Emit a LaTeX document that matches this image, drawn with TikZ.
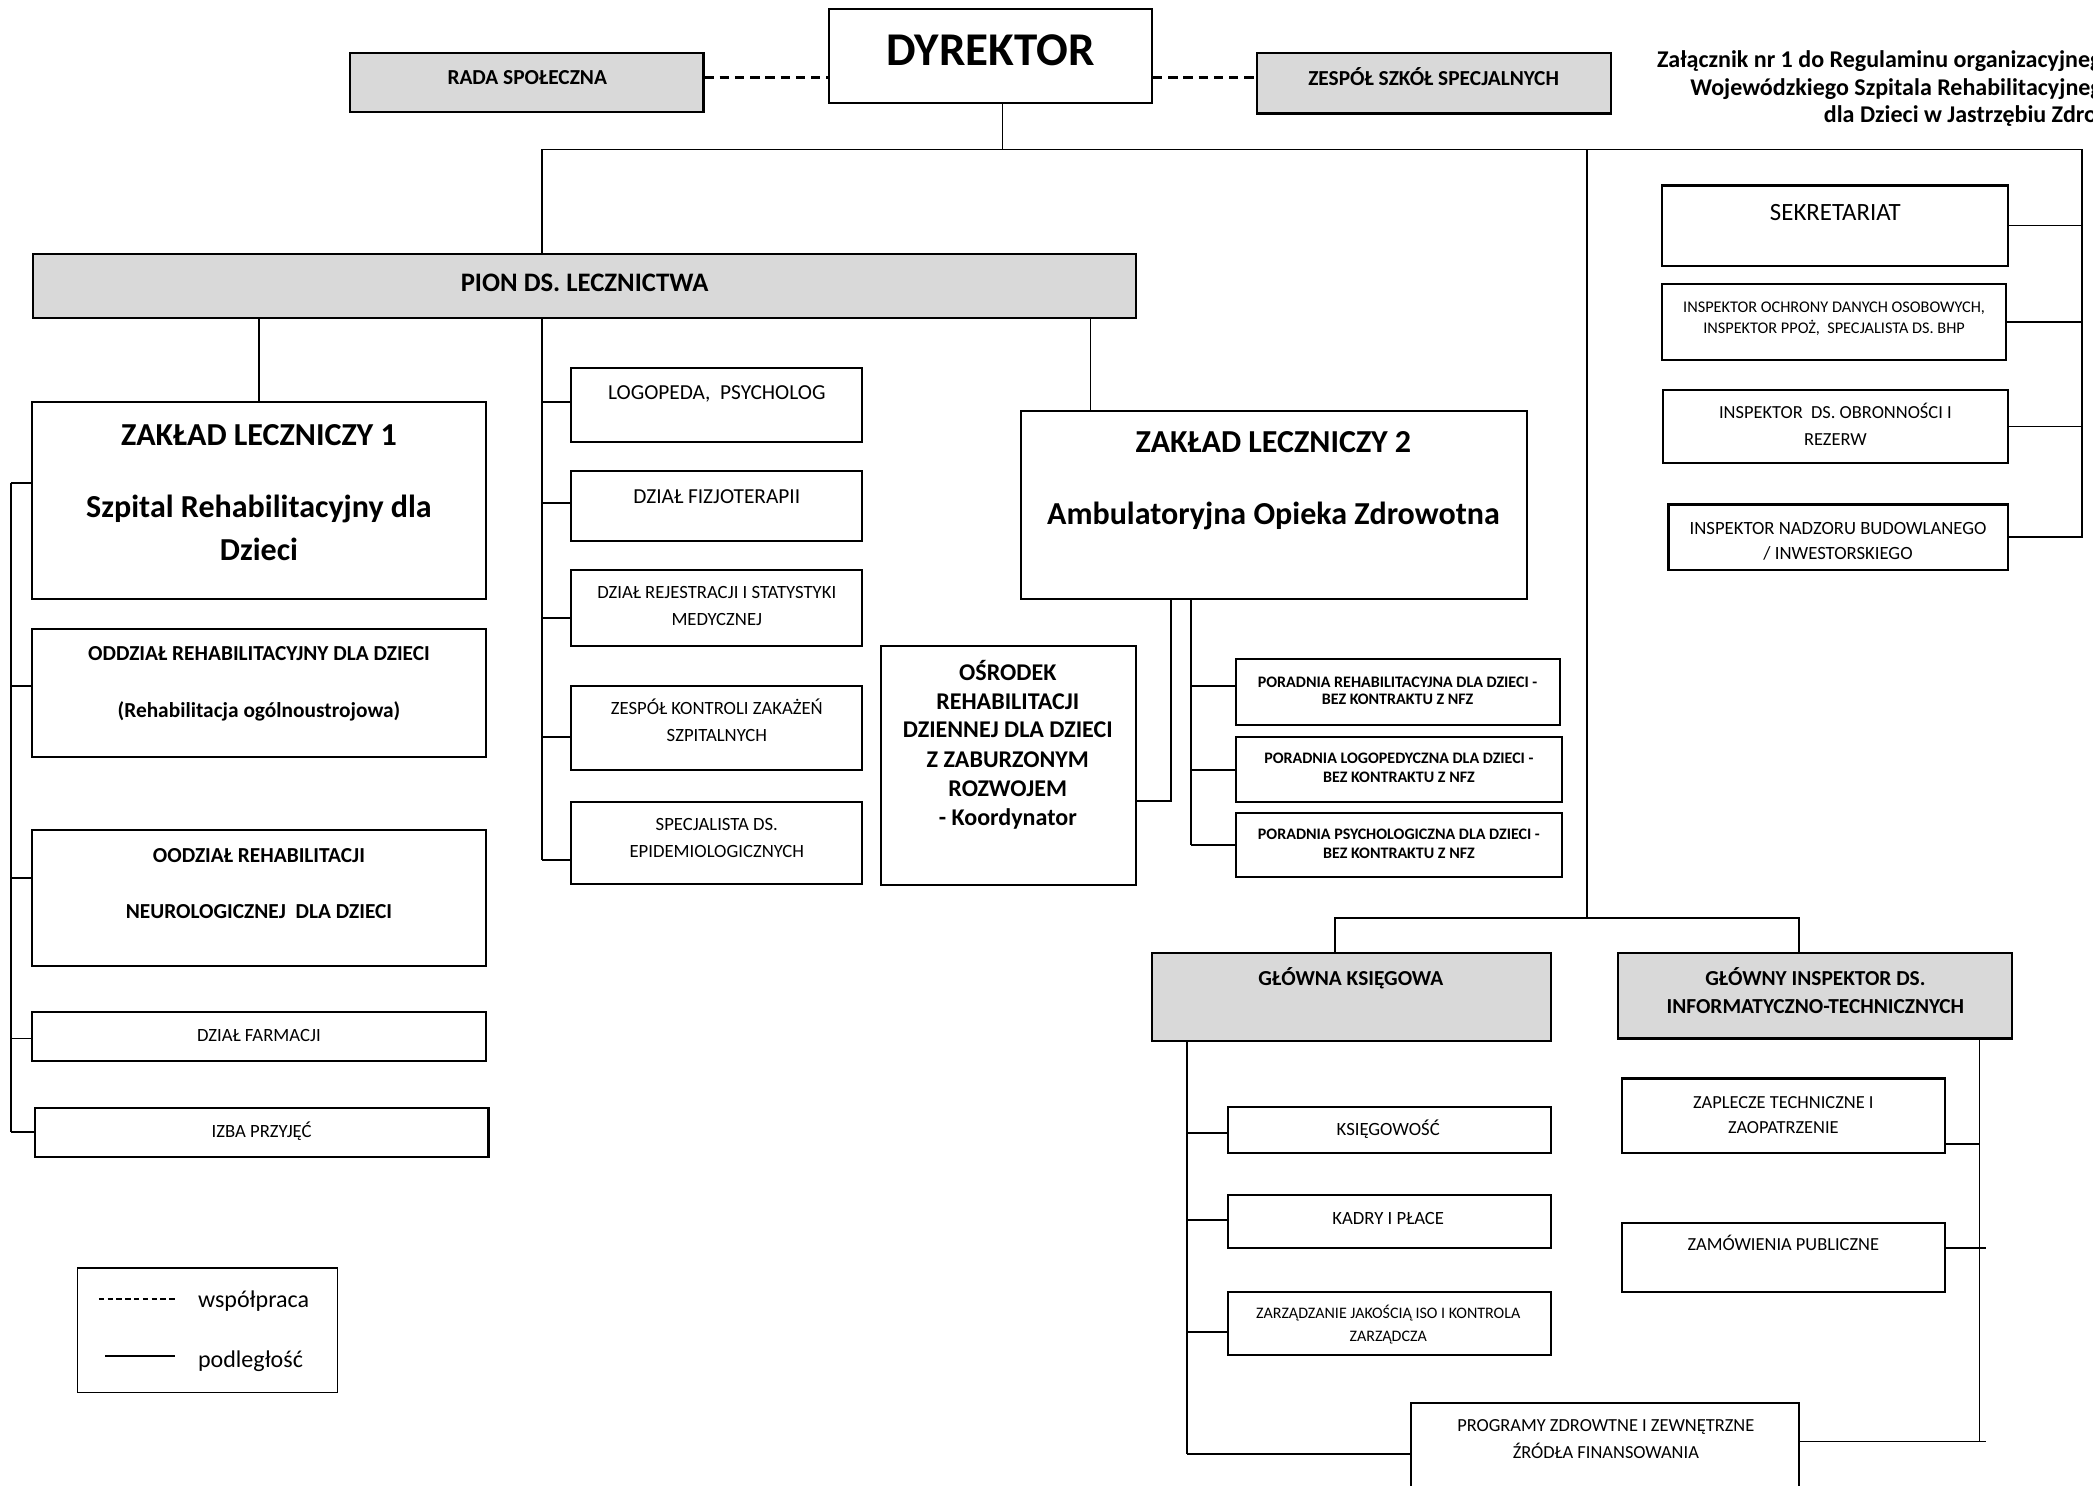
\documentclass[tikz,border=0pt]{standalone}
\usepackage{fontspec}
\setmainfont{Carlito}
\usetikzlibrary{fit}
\definecolor{boxgray}{HTML}{D9D9D9}
\tikzset{
  box/.style={draw, line width=0.8pt, inner sep=0pt},
  gbox/.style={box, fill=boxgray},
  sub/.style={line width=0.65pt},
  coop/.style={line width=0.9pt, dash pattern=on 3.5pt off 2.2pt},
  tx/.code={\pgfmathsetmacro\thgt{0.644*#1}\edef\tmpa{\noexpand\tikzset{inner sep=0pt,text depth=0pt,text height=\thgt pt,font=\noexpand\fontsize{#1}{#1}\noexpand\selectfont}}\tmpa},
  tb/.code={\pgfmathsetmacro\thgt{0.644*#1}\edef\tmpa{\noexpand\tikzset{inner sep=0pt,text depth=0pt,text height=\thgt pt,font=\noexpand\fontsize{#1}{#1}\noexpand\selectfont\noexpand\bfseries}}\tmpa},
}
\begin{document}
\begin{tikzpicture}[x=0.5pt,y=-0.5pt]
\useasboundingbox (0,0) rectangle (1568,1113);
\clip (0,0) rectangle (1568,1113);
\fill[white] (0,0) rectangle (1568,1113);
% ---------- top ----------
\node[box, fit={(621,7) (863,77)}] (dyr) {};
\node[tb=17.6] (dyr-t) at (742,38) {DYREKTOR};
\node[gbox, fit={(262,40) (527,84)}] (rada) {};
\node[tb=8] (rada-t) at (395,58) {RADA SPOŁECZNA};
\node[gbox, fit={(942,40) (1207,85)}] (zss) {};
\node[tb=8] (zss-t) at (1074,59) {ZESPÓŁ SZKÓŁ SPECJALNYCH};
\node[tb=9, anchor=west] (cap1) at (1241,45) {Załącznik nr 1 do Regulaminu organizacyjnego};
\node[tb=9, anchor=west] (cap2) at (1266,66) {Wojewódzkiego Szpitala Rehabilitacyjnego};
\node[tb=9, anchor=west] (cap3) at (1366,86) {dla Dzieci w Jastrzębiu Zdroju};
% ---------- pion ----------
\node[gbox, fit={(25,190) (851,238)}] (pion) {};
\node[tb=10] (pion-t) at (438,212) {PION DS. LECZNICTWA};
% ZL1 column
\node[box, fit={(24,301) (364,449)}] (zl1) {};
\node[tb=12] (zl1-t1) at (194,326) {ZAKŁAD LECZNICZY 1};
\node[tb=12] (zl1-t2) at (194,380) {Szpital Rehabilitacyjny dla};
\node[tb=12] (zl1-t3) at (194,412) {Dzieci};
\node[box, fit={(24,471) (364,567)}] (oddz) {};
\node[tb=8] (oddz-t1) at (194,490) {ODDZIAŁ REHABILITACYJNY DLA DZIECI};
\node[tb=8] (oddz-t2) at (194,532) {(Rehabilitacja ogólnoustrojowa)};
\node[box, fit={(24,622) (364,724)}] (oodz) {};
\node[tb=8] (oodz-t1) at (194,641) {OODZIAŁ REHABILITACJI};
\node[tb=8] (oodz-t2) at (194,683) {NEUROLOGICZNEJ~ DLA DZIECI};
\node[box, fit={(24,758) (364,795)}] (farm) {};
\node[tx=7] (farm-t) at (194,776) {DZIAŁ FARMACJI};
\node[box, fit={(26,830) (366,867)}] (izba) {};
\node[tx=7] (izba-t) at (196,848) {IZBA PRZYJĘĆ};
% middle column
\node[box, fit={(428,276) (646,331)}] (logo) {};
\node[tx=8] (logo-t) at (537,294) {LOGOPEDA,~ PSYCHOLOG};
\node[box, fit={(428,353) (646,405)}] (fizj) {};
\node[tx=8] (fizj-t) at (537,372) {DZIAŁ FIZJOTERAPII};
\node[box, fit={(428,427) (646,484)}] (rej) {};
\node[tx=7] (rej-t1) at (537,444) {DZIAŁ REJESTRACJI I STATYSTYKI};
\node[tx=7] (rej-t2) at (537,464) {MEDYCZNEJ};
\node[box, fit={(428,514) (646,577)}] (zkz) {};
\node[tx=7] (zkz-t1) at (537,531) {ZESPÓŁ KONTROLI ZAKAŻEŃ};
\node[tx=7] (zkz-t2) at (537,551) {SZPITALNYCH};
\node[box, fit={(428,601) (646,662)}] (spec) {};
\node[tx=7] (spec-t1) at (537,618) {SPECJALISTA DS.};
\node[tx=7] (spec-t2) at (537,638) {EPIDEMIOLOGICZNYCH};
% ZL2
\node[box, fit={(765,308) (1144,449)}] (zl2) {};
\node[tb=12] (zl2-t1) at (954,331) {ZAKŁAD LECZNICZY 2};
\node[tb=12] (zl2-t2) at (954,385) {Ambulatoryjna Opieka Zdrowotna};
\node[box, fit={(660,484) (851,663)}] (osr) {};
\node[tb=9] (osr-t1) at (755,504) {OŚRODEK};
\node[tb=9] (osr-t2) at (755,526) {REHABILITACJI};
\node[tb=9] (osr-t3) at (755,547) {DZIENNEJ DLA DZIECI};
\node[tb=9] (osr-t4) at (755,569) {Z ZABURZONYM};
\node[tb=9] (osr-t5) at (755,591) {ROZWOJEM};
\node[tb=9] (osr-t6) at (755,613) {- Koordynator};
\node[box, fit={(926,494) (1169,543)}] (por1) {};
\node[tb=6] (por1-t1) at (1047,511) {PORADNIA REHABILITACYJNA DLA DZIECI -};
\node[tb=6] (por1-t2) at (1047,524) {BEZ KONTRAKTU Z NFZ};
\node[box, fit={(926,552) (1170,601)}] (por2) {};
\node[tb=6] (por2-t1) at (1048,568) {PORADNIA LOGOPEDYCZNA DLA DZIECI -};
\node[tb=6] (por2-t2) at (1048,582) {BEZ KONTRAKTU Z NFZ};
\node[box, fit={(926,609) (1170,657)}] (por3) {};
\node[tb=6] (por3-t1) at (1048,625) {PORADNIA PSYCHOLOGICZNA DLA DZIECI -};
\node[tb=6] (por3-t2) at (1048,639) {BEZ KONTRAKTU Z NFZ};
% right group
\node[box, fit={(1245,139) (1504,199)}] (sek) {};
\node[tx=9.3] (sek-t) at (1375,159) {SEKRETARIAT};
\node[box, fit={(1245,213) (1503,270)}] (iod) {};
\node[tx=6.1] (iod-t1) at (1374,230) {INSPEKTOR OCHRONY DANYCH OSOBOWYCH,};
\node[tx=6.1] (iod-t2) at (1374,246) {INSPEKTOR PPOŻ,~ SPECJALISTA DS. BHP};
\node[box, fit={(1246,292) (1504,347)}] (iob) {};
\node[tx=6.9] (iob-t1) at (1375,309) {INSPEKTOR~ DS. OBRONNOŚCI I};
\node[tx=6.9] (iob-t2) at (1375,329) {REZERW};
\node[box, fit={(1250,378) (1504,427)}] (inb) {};
\node[tx=7] (inb-t1) at (1377,396) {INSPEKTOR NADZORU BUDOWLANEGO};
\node[tx=7] (inb-t2) at (1377,415) {/ INWESTORSKIEGO};
% bottom right
\node[gbox, fit={(863,714) (1162,780)}] (gk) {};
\node[tb=8] (gk-t) at (1012,733) {GŁÓWNA KSIĘGOWA};
\node[gbox, fit={(1212,714) (1507,778)}] (gi) {};
\node[tb=8] (gi-t1) at (1360,733) {GŁÓWNY INSPEKTOR DS.};
\node[tb=8] (gi-t2) at (1360,754) {INFORMATYCZNO-TECHNICZNYCH};
\node[box, fit={(920,829) (1162,864)}] (ks) {};
\node[tx=7] (ks-t) at (1040,846) {KSIĘGOWOŚĆ};
\node[box, fit={(920,895) (1162,935)}] (kp) {};
\node[tx=7] (kp-t) at (1040,913) {KADRY I PŁACE};
\node[box, fit={(920,968) (1162,1015)}] (zj) {};
\node[tx=6] (zj-t1) at (1040,984) {ZARZĄDZANIE JAKOŚCIĄ ISO I KONTROLA};
\node[tx=6] (zj-t2) at (1040,1001) {ZARZĄDCZA};
\node[box, fit={(1057,1051) (1348,1135)}] (prog) {};
\node[tx=6.9] (prog-t1) at (1203,1068) {PROGRAMY ZDROWTNE I ZEWNĘTRZNE};
\node[tx=6.9] (prog-t2) at (1203,1088) {ŹRÓDŁA FINANSOWANIA};
\node[box, fit={(1215,808) (1457,864)}] (zap) {};
\node[tx=6.9] (zap-t1) at (1336,826) {ZAPLECZE TECHNICZNE I};
\node[tx=6.9] (zap-t2) at (1336,845) {ZAOPATRZENIE};
\node[box, fit={(1215,916) (1457,968)}] (zam) {};
\node[tx=6.9] (zam-t) at (1336,932) {ZAMÓWIENIA PUBLICZNE};
% legend
\node[draw, line width=0.5pt, inner sep=0pt, fit={(58,950) (253,1043)}] (lg) {};
\coordinate (lgd1) at (74,973); \coordinate (lgd2) at (131,973);
\coordinate (lgs1) at (79,1016); \coordinate (lgs2) at (131,1016);
\draw[line width=0.6pt, dash pattern=on 2pt off 1.3pt] (lgd1) -- (lgd2);
\draw[line width=0.7pt] (lgs1) -- (lgs2);
\node[tx=9, anchor=west] (lg-t1) at (148,974) {współpraca};
\node[tx=9, anchor=west] (lg-t2) at (148,1019) {podległość};
% ---------- connectors ----------
\coordinate (dl) at (0,58);
\draw[coop] (rada.east |- dl) -- (dyr.west |- dl);
\draw[coop] (dyr.east |- dl) -- (zss.west |- dl);
\coordinate (j0) at (751,112);
\coordinate (tl) at (406,112);
\coordinate (tr) at (1560,112);
\coordinate (tm) at (1189,112);
\draw[sub] (dyr.south -| j0) -- (j0);
\draw[sub] (pion.north -| tl) -- (tl) -- (tr) -- (tr |- inb.east) -- (inb.east);
\draw[sub] (sek.east) -- (sek.east -| tr);
\draw[sub] (iod.east) -- (iod.east -| tr);
\draw[sub] (iob.east) -- (iob.east -| tr);
% pion children
\draw[sub] (pion.south -| zl1.north) -- (zl1.north);
\coordinate (m1) at (406,301);
\coordinate (m2) at (406,377);
\coordinate (m3) at (406,463);
\coordinate (m4) at (406,552);
\coordinate (m5) at (406,644);
\draw[sub] (pion.south -| m1) -- (m5);
\draw[sub] (m1) -- (logo.west |- m1);
\draw[sub] (m2) -- (fizj.west |- m2);
\draw[sub] (m3) -- (rej.west |- m3);
\draw[sub] (m4) -- (zkz.west |- m4);
\draw[sub] (m5) -- (spec.west |- m5);
\coordinate (p3) at (817,0);
\draw[sub] (pion.south -| p3) -- (zl2.north -| p3);
% left spine
\coordinate (l1) at (8,362);
\coordinate (l2) at (8,514);
\coordinate (l3) at (8,658);
\coordinate (l4) at (8,778);
\coordinate (l5) at (8,848);
\draw[sub] (l1) -- (l5);
\draw[sub] (l1) -- (zl1.west |- l1);
\draw[sub] (l2) -- (oddz.west |- l2);
\draw[sub] (l3) -- (oodz.west |- l3);
\draw[sub] (l4) -- (farm.west |- l4);
\draw[sub] (l5) -- (izba.west |- l5);
% ZL2 children
\coordinate (o1) at (877,600);
\draw[sub] (zl2.south -| o1) -- (o1) -- (osr.east |- o1);
\coordinate (q1) at (892,514);
\coordinate (q2) at (892,577);
\coordinate (q3) at (892,633);
\draw[sub] (zl2.south -| q1) -- (q3);
\draw[sub] (q1) -- (por1.west |- q1);
\draw[sub] (q2) -- (por2.west |- q2);
\draw[sub] (q3) -- (por3.west |- q3);
% middle
\coordinate (h0) at (1189,688);
\coordinate (h1) at (1000,688);
\coordinate (h2) at (1348,688);
\draw[sub] (tm) -- (h0);
\draw[sub] (gk.north -| h1) -- (h1) -- (h2) -- (gi.north -| h2);
% GK spine
\coordinate (k1) at (889,849);
\coordinate (k2) at (889,914);
\coordinate (k3) at (889,998);
\coordinate (k4) at (889,1089);
\draw[sub] (gk.south -| k1) -- (k4);
\draw[sub] (k1) -- (ks.west |- k1);
\draw[sub] (k2) -- (kp.west |- k2);
\draw[sub] (k3) -- (zj.west |- k3);
\draw[sub] (k4) -- (prog.west |- k4);
% GI spine
\coordinate (g1) at (1483,857);
\coordinate (g2) at (1488,935);
\coordinate (g3) at (1488,1080);
\coordinate (gb) at (1483,1080);
\draw[sub] (gi.south -| g1) -- (gb);
\draw[sub] (zap.east |- g1) -- (g1);
\draw[sub] (zam.east |- g2) -- (g2);
\draw[sub] (prog.east |- g3) -- (g3);
\end{tikzpicture}
\end{document}
